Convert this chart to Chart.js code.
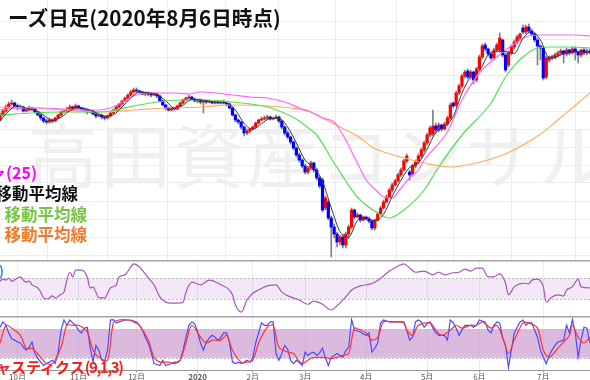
<!DOCTYPE html>
<html lang="ja">
<head>
<meta charset="utf-8">
<script src="https://cdn.jsdelivr.net/npm/chart.js@4.4.0/dist/chart.umd.min.js"></script>
<style>
html, body { margin: 0; padding: 0; background: #fff; }
#wrap { position: relative; width: 590px; height: 380px; overflow: hidden; background: #fff;
  font-family: "Noto Sans CJK JP", "Noto Sans", sans-serif; }
canvas { position: absolute; left: 0; z-index: 1; }
#main { top: 0; }
#osc { top: 260px; }
#stoch { top: 316px; }
.txt { position: absolute; white-space: nowrap; z-index: 2; font-weight: bold; line-height: 1; }
.narrow { letter-spacing: -1.4px; }
#watermark { position: absolute; left: 28px; top: 118px; font-size: 70px; letter-spacing: 3px;
  color: #f0f0f0; white-space: nowrap; z-index: 0; line-height: 1; }
</style>
</head>
<body>
<div id="wrap">
  <div id="watermark">高田資産コンサルタント</div>
  <canvas id="main" width="590" height="260"></canvas>
  <canvas id="osc" width="590" height="56"></canvas>
  <canvas id="stoch" width="590" height="66"></canvas>
  <div class="txt" style="left:8px;top:7px;font-size:20.6px;color:#111;">ーズ日足(2020年8月6日時点)</div>
  <div class="txt" style="right:553px;top:164px;font-size:16px;color:#ff00ff;">ボリンジャ(25)</div>
  <div class="txt" style="right:512px;top:185px;font-size:16.5px;color:#111;">5日移動平均線</div>
  <div class="txt" style="right:503px;top:206px;font-size:16.5px;color:#77c544;">25日　移動平均線</div>
  <div class="txt" style="right:503px;top:226px;font-size:16.5px;color:#f07a2a;">75日　移動平均線</div>
  <div class="txt" style="right:586px;top:264px;font-size:13px;color:#2f80d0;">RSI(14)</div>
  <div class="txt" style="left:-49px;top:359px;font-size:15px;color:#ff1a1a;">ストキャスティクス<span class="narrow">(9,1,3)</span></div>
</div>
<script>
// trading-day index: 0 = 2019/10/1
const monthTickDays = [0, 21, 41, 62, 81, 99, 120, 141, 159, 181];
const monthTickLabels = ["10月", "11月", "12月", "2020", "2月", "3月", "4月", "5月", "6月", "7月"];
const priceGridLevels = [5, 23, 41, 59, 77, 95, 113, 131, 149, 167, 185, 203, 221, 239];
const firstDay = -6;

const opens = [
  140,145,149,153,156,157,154,152,153,149,
  150,152,151,148,145,142,139,138,140,139,
  142,145,148,149,151,153,152,154,152,151,
  150,148,149,146,144,145,143,142,144,147,
  150,153,156,159,162,165,168,170,169,168,
  166,167,166,165,166,164,159,155,152,150,
  152,151,154,157,160,162,163,161,159,160,
  158,159,158,158,157,158,157,158,157,156,
  152,145,140,138,133,127,129,131,133,137,
  140,141,142,143,141,142,143,139,133,127,
  123,118,112,105,100,94,88,92,97,90,
  82,80,52,58,42,33,26,18,23,15,
  26,33,50,43,45,40,43,41,39,32,
  40,46,52,58,63,70,75,79,85,90,
  99,88,86,94,98,104,110,117,125,126,
  134,130,135,131,136,142,157,155,167,174,
  184,189,183,188,180,191,203,215,211,206,
  202,210,210,220,205,195,207,213,218,222,
  232,228,233,229,226,220,214,212,183,200,
  203,202,205,207,209,206,210,207,211,208,
  205,210,207,209
];
const highs = [
  147,151,155,158,160,158,156,155,154,152,
  154,153,152,149,146,143,141,142,141,143,
  146,149,151,153,155,154,156,155,153,152,
  151,150,150,147,146,146,144,145,148,151,
  154,157,160,163,166,170,172,172,170,169,
  168,168,167,167,167,165,160,156,153,153,
  153,155,158,161,163,165,164,162,161,161,
  160,160,160,159,159,159,159,160,158,157,
  153,146,141,139,134,131,132,134,138,141,
  143,144,145,144,143,145,144,140,134,129,
  124,119,113,107,101,96,94,99,98,92,
  84,82,64,60,44,36,28,25,26,28,
  35,52,51,47,46,44,44,43,40,41,
  48,54,60,65,72,77,81,87,92,101,
  106,90,96,100,106,112,119,127,134,150,
  137,137,136,138,144,157,158,169,176,186,
  190,191,190,189,193,205,216,217,212,208,
  212,217,227,221,207,209,215,220,225,227,
  235,235,236,231,227,222,215,213,204,204,
  205,207,209,211,210,212,211,213,213,209,
  211,212,211,211
];
const lows = [
  139,144,148,152,155,153,150,151,148,148,
  149,149,147,144,140,137,136,137,137,138,
  141,144,147,148,150,150,151,151,149,148,
  146,147,145,142,143,141,140,141,143,146,
  149,152,155,158,161,164,167,167,166,165,
  164,164,163,164,162,158,154,150,149,149,
  150,150,153,156,159,161,160,158,157,156,
  147,156,157,156,156,156,156,156,154,151,
  144,138,136,131,124,125,127,130,132,136,
  139,140,141,140,140,141,137,131,125,121,
  116,110,103,98,92,86,86,90,88,80,
  72,48,50,40,3,22,13,15,12,12,
  21,31,41,42,38,39,40,37,30,30,
  39,45,51,57,62,68,74,78,83,89,
  97,80,84,92,96,102,108,115,123,124,
  127,128,129,130,134,140,152,153,165,172,
  182,181,181,176,178,189,201,209,204,200,
  200,208,208,203,188,193,205,211,216,220,
  226,226,227,224,218,195,200,180,181,198,
  200,201,203,205,197,204,205,206,200,197,
  203,205,205,206
];
const closes = [
  145,149,153,156,157,154,152,153,149,150,
  152,151,148,145,142,139,138,140,139,142,
  145,148,149,151,153,152,154,152,151,150,
  148,149,146,144,145,143,142,144,147,150,
  153,156,159,162,165,168,170,169,168,166,
  167,166,165,166,164,159,155,152,150,152,
  151,154,157,160,162,163,161,159,160,158,
  159,158,159,157,158,157,158,157,156,152,
  145,140,138,133,127,129,131,133,137,140,
  141,142,143,141,142,143,139,133,127,123,
  118,112,105,100,94,88,92,97,90,82,
  74,50,62,42,33,26,18,23,15,26,
  33,50,43,45,40,43,41,39,32,40,
  46,52,58,63,70,75,79,85,90,99,
  104,85,94,98,104,110,117,125,132,134,
  130,135,131,136,142,155,154,167,174,184,
  188,183,188,180,191,203,214,211,206,202,
  210,215,222,205,190,207,213,218,223,226,
  228,233,229,226,220,214,212,182,202,203,
  202,205,207,209,206,210,207,211,208,205,
  210,207,209,208
];

// 5-day MA (black)
const ma5Days = [-6,-3,0,3,6,9,12,15,18,21,24,27,30,33,36,39,42,45,48,51,54,57,60,63,66,69,72,75,78,81,84,87,90,93,96,99,102,105,108,111,114,117,120,123,126,129,132,135,138,141,144,147,150,153,156,159,162,165,168,171,174,177,180,183,186,189,192,195,197];
const ma5Vals = [139,149,154.4,151.6,150,145,139.6,142.8,149.2,152.4,151,147.4,144,145.2,153,162,168,167.2,165.6,159.2,152,154.8,160.6,160.2,158.7,157.7,157.2,150,136.6,130.6,136.4,141.4,141.6,133,117,99.8,92.2,78.6,52.2,28.4,23,39.4,42.4,39,45.6,63.6,79.8,92.6,97,110.8,127.6,133.2,143.6,166.8,183.4,189,205,208.8,208.4,206.6,221.6,228.4,220.2,202.6,203.8,207.4,208.4,208.2,207.8];
// magenta band (25)
const bandDays = [-6,1,8,15,22,28,32,35,40,44,49,54,59,63,68,74,80,86,92,97,101,105,109,111,113,117,120,124,126,129,132,135,138,140,143,148,153,159,165,172,176,180,186,192,197];
const bandVals = [150,152,152,151,150,150,152,156,164,167,167,167,166,168,167,165,163,162,158,152,148,142,138,130,120,97,80,68,63,62,72,82,90,100,110,128,160,187,203,218,224,225,225,225,224];
// 25-day MA (green)
const ma25Days = [-6,5,17,28,32,40,48,57,65,74,86,94,97,101,103,109,117,124,128,133,140,145,153,163,168,174,179,183,191,197];
const ma25Vals = [145,147,148,148,149,154,158,160,160,158,153,144,139,130,125,97,63,47,42,50,70,93,125,157,183,203,212,213,213,212];
// 75-day MA (orange)
const ma75Days = [-6,5,17,28,40,51,63,74,86,94,101,105,111,118,122,132,140,149,158,167,174,181,186,193,197];
const ma75Vals = [153,152,150,148,150,152,153,155,154,152,148,142,133,122,113,103,97,93,97,105,115,128,140,157,167];

// RSI
const rsiDays = [-6,-5,-4,-3,-2,0,1,2,3,4,5,7,8,9,10,11,12,13,15,16,17,18,19,20,22,24,25,26,27,28,30,32,34,35,37,39,40,42,45,47,49,51,53,55,57,58,60,63,66,70,74,75,77,79,81,83,86,89,91,94,97,100,102,105,108,110,113,115,118,121,123,126,128,131,133,135,137,140,143,145,147,150,152,154,156,158,160,162,164,166,168,169,171,174,176,177,179,181,182,184,186,188,189,191,193,194,197];
const rsiVals = [64,68,66,70,64,70,72,66,62,64,57,51,43,32,30,32,36,32,39,43,66,81,72,85,85,72,51,53,43,32,32,51,57,72,76,91,97,91,70,57,34,24,22,22,24,43,62,57,66,57,38,19,5,28,41,47,55,57,43,34,28,20,26,20,9,17,34,47,55,58,62,74,83,93,97,89,81,83,76,81,76,80,81,87,83,89,89,72,72,78,60,38,53,60,59,66,68,53,24,34,38,36,47,53,68,53,51];

// Stochastics %K (daily from firstDay) and %D
const kVals = [
  84,95,88,72,60,57,
  53,51,42,36,42,53,29,19,11,4,
  8,11,15,8,32,78,99,88,99,93,
  88,78,72,82,84,42,11,46,36,15,
  11,36,99,100,93,95,97,99,99,99,
  97,95,88,78,63,51,32,8,6,4,
  15,4,6,8,11,11,15,36,63,88,
  95,91,74,51,36,53,61,67,63,57,
  63,72,72,51,11,8,11,8,11,15,
  11,21,51,72,93,88,88,95,95,29,
  15,29,46,38,15,8,15,10,4,32,
  25,30,32,25,30,40,20,4,21,25,
  29,25,21,35,42,100,78,76,74,70,
  67,72,32,40,51,93,99,97,95,95,
  95,95,95,95,78,57,63,95,99,95,
  84,91,95,82,72,67,67,67,57,99,
  93,82,67,78,88,88,88,84,88,99,
  97,95,78,72,88,95,93,61,46,0,
  36,72,84,95,99,88,93,93,78,63,
  36,21,8,25,36,46,53,55,57,88,
  72,100,72,21,57,84,82,51
];
const dDays = [-6,-4,-2,1,3,5,8,10,12,15,17,19,21,24,26,28,31,33,35,38,40,42,45,47,49,52,54,56,58,60,63,65,67,70,72,74,77,79,81,83,86,88,90,93,95,96,98,101,103,105,108,110,112,114,116,118,120,122,124,126,129,133,134,136,138,142,144,146,149,151,153,156,158,160,163,165,167,169,171,174,176,179,181,183,186,188,190,191,193,195,197];
const dVals = [51,88,82,67,40,40,21,8,8,42,88,88,88,74,36,21,15,93,99,99,95,88,57,21,11,11,8,15,51,88,63,51,57,57,67,36,11,11,15,51,84,88,42,32,29,21,8,19,21,21,19,21,25,29,82,78,72,57,63,95,95,93,78,67,88,93,78,67,78,88,82,88,88,95,82,88,63,29,57,93,93,82,36,21,40,53,67,88,63,51,63];

const RED = "#ff0000", BLUE = "#0000ff";
const GRID = "#e8eef4";
const xMin = -6.02, xMax = 197.07;

Chart.defaults.font.family = '"Noto Sans CJK JP", "Noto Sans", sans-serif';
Chart.defaults.animation = false;
Chart.defaults.responsive = false;
Chart.defaults.plugins.legend.display = false;
Chart.defaults.plugins.tooltip.enabled = false;

const days = opens.map((_, k) => firstDay + k);
const pts = (xs, ys) => xs.map((x, k) => ({ x: x, y: ys[k] }));

function monthTicks(scale) {
    scale.ticks = monthTickDays.map((v) => ({ value: v }));
}

function xAxis(showLabels) {
    return {
        type: "linear", min: xMin, max: xMax, offset: false,
        afterBuildTicks: monthTicks,
        ticks: {
            display: showLabels, autoSkip: false, maxRotation: 0, padding: 0,
            color: "#555",
            font: (c) => ({ size: 8, weight: c.tick && c.tick.value === 62 ? "bold" : "normal" }),
            callback: (v) => monthTickLabels[monthTickDays.indexOf(v)],
        },
        grid: { color: GRID, drawTicks: showLabels, tickLength: 2, tickColor: "#999" },
        border: { display: showLabels, color: "#999" },
    };
}

function hiddenY(min, max, ticks) {
    return {
        min: min, max: max,
        afterBuildTicks: ticks ? (s) => { s.ticks = ticks.map((v) => ({ value: v })); } : undefined,
        ticks: { display: false },
        grid: { display: !!ticks, color: GRID, drawTicks: false },
        border: { display: false },
    };
}

// separator line at top of a pane
const topRule = {
    id: "topRule",
    afterDraw(chart) {
        const c = chart.ctx;
        c.save();
        c.strokeStyle = "#a3a3a3";
        c.lineWidth = 1.5;
        c.beginPath();
        c.moveTo(0, 0.75);
        c.lineTo(chart.width, 0.75);
        c.stroke();
        c.restore();
    },
};

function bandPlugin(lo, hi, fill) {
    return {
        id: "band",
        beforeDatasetsDraw(chart) {
            const { ctx, chartArea: a } = chart;
            const y = chart.scales.y;
            const t = y.getPixelForValue(hi), b = y.getPixelForValue(lo);
            ctx.save();
            ctx.fillStyle = fill;
            ctx.fillRect(a.left, t, a.width, b - t);
            ctx.strokeStyle = "#bbb";
            ctx.lineWidth = 1;
            ctx.setLineDash([2, 2]);
            ctx.beginPath();
            ctx.moveTo(a.left, Math.round(t) + 0.5); ctx.lineTo(a.right, Math.round(t) + 0.5);
            ctx.moveTo(a.left, Math.round(b) + 0.5); ctx.lineTo(a.right, Math.round(b) + 0.5);
            ctx.stroke();
            ctx.restore();
        },
    };
}

const lineDs = (data, color, width, order) => ({
    type: "line", data: data, borderColor: color, borderWidth: width,
    pointRadius: 0, cubicInterpolationMode: "monotone", order: order,
});

// price pane
new Chart(document.getElementById("main"), {
    type: "bar",
    data: {
        datasets: [
            lineDs(pts(ma5Days, ma5Vals), "#3a3a3a", 1, 0),
            lineDs(pts(bandDays, bandVals), "#ff66ff", 1.2, 1),
            lineDs(pts(ma25Days, ma25Vals), "#55e055", 1.2, 2),
            lineDs(pts(ma75Days, ma75Vals), "#ffad5c", 1.2, 3),
            {
                data: days.map((d, k) => ({ x: d, y: [opens[k], closes[k]] })),
                backgroundColor: days.map((d, k) => (closes[k] >= opens[k] ? RED : BLUE)),
                barThickness: 2.6, minBarLength: 1, grouped: false, order: 4,
            },
            {
                data: days.map((d, k) => ({ x: d, y: [lows[k], highs[k]] })),
                backgroundColor: "#808080",
                barThickness: 1, grouped: false, order: 5,
            },
        ],
    },
    options: {
        layout: { padding: 0 },
        scales: { x: xAxis(false), y: hiddenY(0, 260, priceGridLevels) },
    },
});

// RSI pane
new Chart(document.getElementById("osc"), {
    type: "line",
    data: { datasets: [lineDs(pts(rsiDays, rsiVals), "#aa55bb", 1.2, 0)] },
    options: {
        layout: { padding: 0 },
        scales: { x: xAxis(false), y: hiddenY(-2.4, 104.3, null) },
    },
    plugins: [bandPlugin(30, 70, "rgba(200,150,210,0.22)"), topRule],
});

// Stochastics pane
new Chart(document.getElementById("stoch"), {
    type: "line",
    data: {
        datasets: [
            { data: pts(days, kVals), borderColor: "#4b4bff", borderWidth: 1.2, pointRadius: 0, order: 1 },
            { data: pts(dDays, dVals), borderColor: "#ff3333", borderWidth: 1.2, pointRadius: 0, tension: 0.3, order: 0 },
        ],
    },
    options: {
        layout: { padding: 0 },
        scales: { x: xAxis(true), y: hiddenY(-6.3, 107.4, null) },
    },
    plugins: [bandPlugin(20, 80, "rgba(190,130,195,0.55)"), topRule],
});
</script>
</body>
</html>
